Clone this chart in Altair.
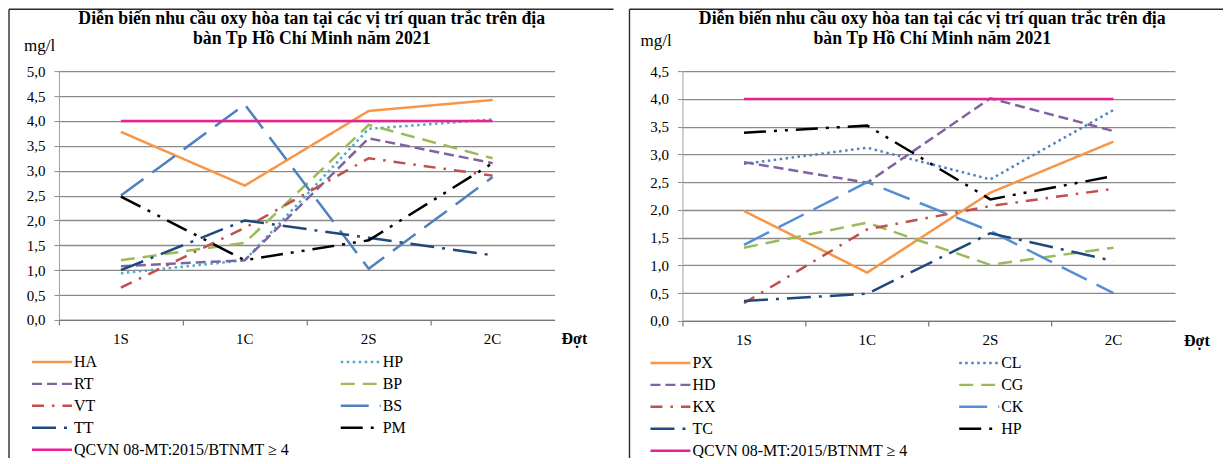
import altair as alt
import pandas as pd

# ---------------- data ----------------
cats = ["1S", "1C", "2S", "2C"]
qc_label = "QCVN 08-MT:2015/BTNMT  ≥ 4"

title_line1 = "Diễn biến nhu cầu oxy hòa tan tại các vị trí quan trắc trên địa"
title_line2 = "bàn Tp Hồ Chí Minh năm 2021"
y_unit = "mg/l"
x_name = "Đợt"

left_series = ["HA", "HP", "RT", "BP", "VT", "BS", "TT", "PM", qc_label]
left_HA = [3.78, 2.70, 4.20, 4.42]
left_HP = [0.94, 1.20, 3.84, 4.03]
left_RT = [1.08, 1.20, 3.65, 3.15]
left_BP = [1.20, 1.55, 3.92, 3.25]
left_VT = [0.65, 1.85, 3.25, 2.90]
left_BS = [2.50, 4.33, 1.03, 2.87]
left_TT = [1.00, 2.00, 1.65, 1.30]
left_PM = [2.48, 1.20, 1.60, 3.15]
left_QC = [4.0, 4.0, 4.0, 4.0]
left_values = [left_HA, left_HP, left_RT, left_BP, left_VT, left_BS, left_TT, left_PM, left_QC]

right_series = ["PX", "CL", "HD", "CG", "KX", "CK", "TC", "HP ", qc_label + " "]
right_PX = [1.98, 0.87, 2.31, 3.23]
right_CL = [2.83, 3.12, 2.55, 3.80]
right_HD = [2.86, 2.49, 4.01, 3.42]
right_CG = [1.32, 1.77, 1.01, 1.32]
right_KX = [0.32, 1.65, 2.07, 2.38]
right_CK = [1.37, 2.50, 1.62, 0.50]
right_TC = [0.36, 0.49, 1.58, 1.08]
right_HP = [3.39, 3.52, 2.19, 2.61]
right_QC = [4.0, 4.0, 4.0, 4.0]
right_values = [right_PX, right_CL, right_HD, right_CG, right_KX, right_CK, right_TC, right_HP, right_QC]

left_ticks = [0, 0.5, 1, 1.5, 2, 2.5, 3, 3.5, 4, 4.5, 5]
right_ticks = [0, 0.5, 1, 1.5, 2, 2.5, 3, 3.5, 4, 4.5]

# ---------------- styles ----------------
ORANGE, CYAN, PURPLE, GREEN = "#F79646", "#4BACC6", "#8064A2", "#9BBB59"
RED, BLUE, NAVY, BLACK, PINK = "#C0504D", "#4F81BD", "#1F497D", "#000000", "#EC1F98"
SOLID = [1, 0]
DOT = [2.5, 3.5]
DASH = [10, 5]
GAPDASH = [14, 8]
DASHDOT = [12, 8, 2.5, 8]
LONGDASH = [28, 11]
LONGDASHDOT = [24, 8, 3, 8]
LONGDASHDOTDOT = [22, 8, 3, 8, 3, 8]

left_colors = [ORANGE, CYAN, PURPLE, GREEN, RED, BLUE, NAVY, BLACK, PINK]
right_colors = [ORANGE, BLUE, PURPLE, GREEN, RED, "#558ED5", NAVY, BLACK, PINK]
dashes = [SOLID, DOT, DASH, GAPDASH, DASHDOT, LONGDASH, LONGDASHDOT, LONGDASHDOTDOT, SOLID]
widths = [2.5, 2.5, 3, 3, 2.5, 2.5, 2.5, 2.5, 4.5]

FONT = "Liberation Serif"
GRID = "#8a8a8a"
one = alt.Data(values=[{"k": 1}])


def panel(series, values, colors, ymax, yticks, lx, ly, tx, mgx, mgy, dotx, doty):
    rows = []
    for s, vals in zip(series, values):
        for c, v in zip(cats, vals):
            rows.append({"cat": c, "series": s, "val": v})
    df = pd.DataFrame(rows)
    base = alt.Chart(df)

    xscale = alt.Scale(type="band", domain=cats, paddingInner=0, paddingOuter=0)
    leg = alt.Legend(
        title=None, orient="none", legendX=lx, legendY=ly, columns=2, direction="horizontal",
        symbolType="M-1,0H7", symbolSize=100, symbolStrokeWidth=3.2,
        symbolFillColor="transparent",
        labelFont=FONT, labelFontSize=16, labelColor="#000", labelOffset=29,
        rowPadding=6, columnPadding=42, padding=0, labelLimit=400,
    )

    lines = base.mark_line(clip=False).encode(
        x=alt.X("cat:N", sort=cats, scale=xscale, bandPosition=0.5,
                axis=alt.Axis(title=None, orient="bottom", ticks=False, labels=True, labelAngle=0,
                              labelFont=FONT, labelFontSize=15, labelColor="#000",
                              labelPadding=12, domain=True, domainColor="#777",
                              domainWidth=1.2, grid=False)),
        y=alt.Y("val:Q", scale=alt.Scale(domain=[0, ymax], nice=False, zero=True),
                axis=alt.Axis(title=None, values=yticks,
                              labelExpr="replace(format(datum.value, '.1f'), '.', ',')",
                              labelFont=FONT, labelFontSize=15, labelColor="#000",
                              labelPadding=9, tickSize=5, tickColor=GRID,
                              domain=True, domainColor="#a0a0a0",
                              grid=True, gridColor=GRID, gridWidth=1.3)),
        color=alt.Color("series:N", scale=alt.Scale(domain=series, range=colors), legend=leg),
        strokeDash=alt.StrokeDash("series:N", scale=alt.Scale(domain=series, range=dashes), legend=leg),
        strokeWidth=alt.StrokeWidth("series:N", scale=alt.Scale(domain=series, range=widths), legend=None),
    )

    tick_axis = base.mark_point(opacity=0).encode(
        x=alt.X("cat:N", sort=cats, scale=xscale,
                axis=alt.Axis(title=None, orient="bottom", labels=False, ticks=True, tickSize=5,
                              tickColor="#777", tickWidth=1.2, bandPosition=0,
                              domain=False, grid=False)),
    )

    txt = dict(font=FONT, color="#000")
    t1 = alt.Chart(one).mark_text(fontSize=17.8, fontWeight="bold", align="center",
                                  baseline="alphabetic", **txt).encode(
        x=alt.value(tx), y=alt.value(-47.5), text=alt.value(title_line1))
    t2 = alt.Chart(one).mark_text(fontSize=17.8, fontWeight="bold", align="center",
                                  baseline="alphabetic", **txt).encode(
        x=alt.value(tx), y=alt.value(-27.5), text=alt.value(title_line2))
    mg = alt.Chart(one).mark_text(fontSize=17, align="left", baseline="alphabetic", **txt).encode(
        x=alt.value(mgx), y=alt.value(mgy), text=alt.value(y_unit))
    dot = alt.Chart(one).mark_text(fontSize=16, fontWeight="bold", align="left",
                                   baseline="alphabetic", **txt).encode(
        x=alt.value(dotx), y=alt.value(doty), text=alt.value(x_name))
    return lines, tick_axis, t1, t2, mg, dot


def frame(x_left, x_right):
    v = alt.Chart(one).mark_rule(color="#2b2b2b", strokeWidth=1.4).encode(
        x=alt.value(x_left), y=alt.value(-62), y2=alt.value(394))
    h = alt.Chart(one).mark_rule(color="#2b2b2b", strokeWidth=1.4).encode(
        y=alt.value(-62), x=alt.value(x_left), x2=alt.value(x_right))
    return v, h


L = panel(left_series, left_values, left_colors, 5.0, left_ticks,
          lx=-30, ly=283, tx=253, mgx=-35, mgy=-20, dotx=503, doty=273)
left = alt.layer(*frame(-50, 555), *L).resolve_axis(x="independent").properties(width=496, height=249)

R = panel(right_series, right_values, right_colors, 4.5, right_ticks,
          lx=-35, ly=284, tx=250, mgx=-42, mgy=-25, dotx=502, doty=275)
right = alt.layer(*frame(-53, 541), *R).resolve_axis(x="independent").properties(width=493, height=250)

chart = alt.hconcat(left, right, spacing=14).resolve_scale(
    x="independent", y="independent", color="independent",
    strokeDash="independent", strokeWidth="independent",
).resolve_legend(color="independent", strokeDash="independent").properties(
    padding={"left": 0, "top": 0, "right": 0, "bottom": -8},
    background="white",
).configure_view(stroke=None)

chart.save("out.html", embed_options={"renderer": "svg", "actions": False})
